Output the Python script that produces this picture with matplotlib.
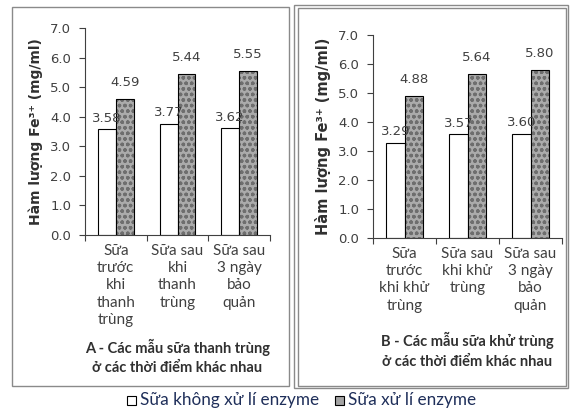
import matplotlib.pyplot as plt
from matplotlib.patches import Rectangle
import numpy as np

cats_a = ['Sữa\ntrước\nkhi\nthanh\ntrùng', 'Sữa sau\nkhi\nthanh\ntrùng', 'Sữa sau\n3 ngày\nbảo\nquản']
cats_b = ['Sữa\ntrước\nkhi khử\ntrùng', 'Sữa sau\nkhi khử\ntrùng', 'Sữa sau\n3 ngày\nbảo\nquản']
no_enz_a = [3.58, 3.77, 3.62]
enz_a = [4.59, 5.44, 5.55]
no_enz_b = [3.29, 3.57, 3.60]
enz_b = [4.88, 5.64, 5.80]
title_a = 'A - Các mẫu sữa thanh trùng\nở các thời điểm khác nhau'
title_b = 'B - Các mẫu sữa khử trùng\nở các thời điểm khác nhau'
legend_labels = ['Sữa không xử lí enzyme', 'Sữa xử lí enzyme']

W, H = 570, 412
fig = plt.figure(figsize=(W / 100, H / 100), dpi=100)
fig.patch.set_facecolor('white')

def fx(px):
    return px / W

def fy(py):
    return 1 - py / H

# panel frames
fig.add_artist(Rectangle((fx(12), fy(386)), fx(289) - fx(12), fy(7) - fy(386),
                         transform=fig.transFigure, fill=False, ec='#8a8a8a', lw=1))
fig.add_artist(Rectangle((fx(294), fy(388)), fx(568) - fx(294), fy(5) - fy(388),
                         transform=fig.transFigure, fill=False, ec='#8a8a8a', lw=1))
fig.add_artist(Rectangle((fx(297.5), fy(386)), fx(566) - fx(297.5), fy(7.5) - fy(386),
                         transform=fig.transFigure, fill=False, ec='#8a8a8a', lw=1))

tick_font = dict(family='DejaVu Sans', size=9.5, color='#404040')
cat_font = dict(family='Lato', size=11, color='#404040')


def draw_panel(rect, cats, v1, v2, title, ylab_size, ylab_weight, title_y):
    ax = fig.add_axes(rect)
    x = np.arange(1, len(cats) + 1)
    w = 0.29
    ax.bar(x - w / 2, v1, w, color='white', edgecolor='black', lw=0.8, zorder=2)
    ax.bar(x + w / 2, v2, w, color='#ababab', edgecolor='#6e6e6e', hatch='ooo', lw=0, zorder=2)
    ax.bar(x + w / 2, v2, w, fill=False, edgecolor='black', lw=0.8, zorder=3)
    for xi, v in zip(x, v1):
        ax.text(xi - w / 2, v + 0.15, f'{v:.2f}', ha='center', va='bottom', zorder=4, **tick_font)
    for xi, v in zip(x, v2):
        ax.text(xi + w / 2, v + 0.35, f'{v:.2f}', ha='center', va='bottom', zorder=4, **tick_font)
    ax.set_xlim(0.5, len(cats) + 0.5)
    ax.set_ylim(0, 7)
    ax.set_yticks(np.arange(0, 7.1, 1))
    ax.set_yticklabels([f'{t:.1f}' for t in np.arange(0, 7.1, 1)], **tick_font)
    ax.set_xticks(np.arange(0.5, len(cats) + 0.6, 1))
    ax.set_xticklabels([])
    ax.tick_params(axis='both', length=4, width=0.8, color='#404040')
    ax.tick_params(axis='y', pad=6)
    for s in ['top', 'right']:
        ax.spines[s].set_visible(False)
    for s in ['left', 'bottom']:
        ax.spines[s].set_color('#404040')
        ax.spines[s].set_linewidth(0.8)
    for xi, c in zip(x, cats):
        ax.text(xi, -0.3, c, ha='center', va='top', linespacing=1.3, **cat_font)
    ax.set_ylabel('Hàm lượng Fe³⁺ (mg/ml)', fontsize=ylab_size, fontweight=ylab_weight,
                  color='#303030', labelpad=5)
    ax.text(2, title_y, title, ha='center', va='top', fontsize=10.5, fontweight='bold',
            family='Lato', color='#303030', linespacing=1.5)
    return ax


draw_panel([fx(85), fy(235), fx(270) - fx(85), fy(28) - fy(235)], cats_a, no_enz_a, enz_a,
           title_a, 10, 'semibold', -3.5)
draw_panel([fx(373), fy(238), fx(562) - fx(373), fy(35) - fy(238)], cats_b, no_enz_b, enz_b,
           title_b, 10.5, 'bold', -3.25)

# legend
leg_col = '#1f2f5a'
fig.add_artist(Rectangle((fx(127), fy(405)), fx(9), fy(396) - fy(405),
                         transform=fig.transFigure, fc='white', ec='black', lw=0.8))
fig.text(fx(140), fy(400), legend_labels[0], ha='left', va='center', fontsize=12.3,
         family='Lato', color=leg_col)
fig.add_artist(Rectangle((fx(335), fy(405)), fx(9), fy(396) - fy(405),
                         transform=fig.transFigure, fc='#a4a4a4', ec='black', lw=0.8))
fig.text(fx(348), fy(400), legend_labels[1], ha='left', va='center', fontsize=12.3,
         family='Lato', color=leg_col)

plt.savefig('out.png', dpi=100)
